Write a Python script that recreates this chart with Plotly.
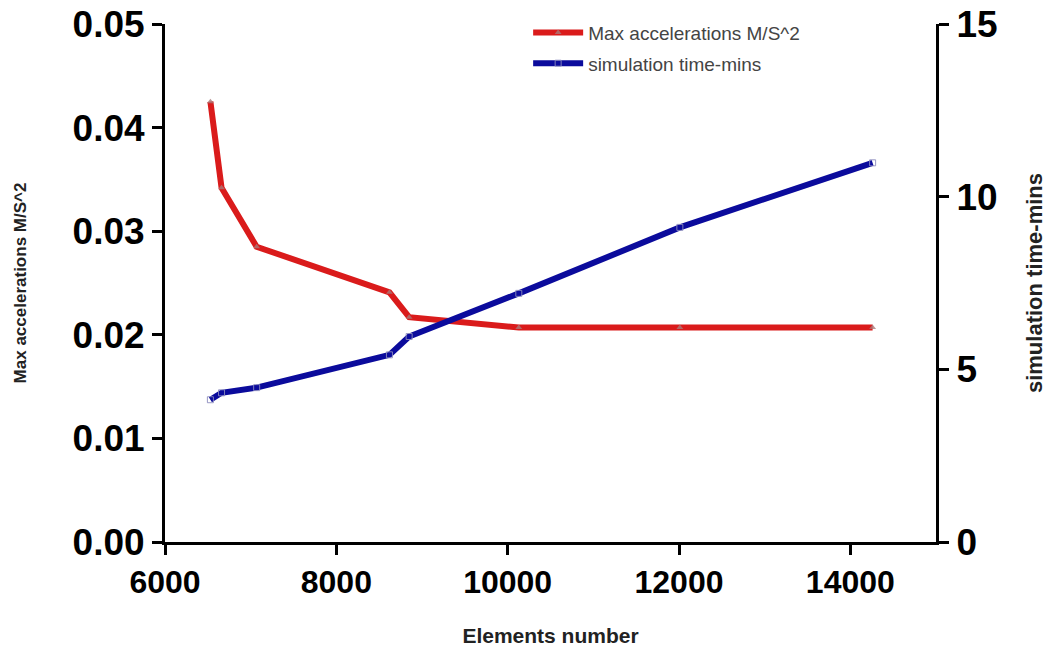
import plotly.graph_objects as go

elements = [6530, 6660, 7070, 8620, 8850, 10130, 12010, 14260]
max_acc = [0.0425, 0.0342, 0.0285, 0.0241, 0.0217, 0.0207, 0.0207, 0.0207]
sim_time = [4.12, 4.32, 4.47, 5.42, 5.95, 7.20, 9.11, 10.98]

x_ticks = [6000, 8000, 10000, 12000, 14000]
y1_ticks = [0.00, 0.01, 0.02, 0.03, 0.04, 0.05]
y2_ticks = [0, 5, 10, 15]

RED = "#DA1B1B"
BLUE = "#0B0B9C"
FONT = "Liberation Sans, Arial, sans-serif"

fig = go.Figure()
fig.add_trace(go.Scatter(
    x=elements, y=max_acc, name="Max accelerations M/S^2", mode="lines+markers",
    line=dict(color=RED, width=6),
    marker=dict(symbol="triangle-up", size=6, color="rgba(170,120,120,0.8)"),
    yaxis="y", legendgroup="a",
))
fig.add_trace(go.Scatter(
    x=elements, y=sim_time, name="simulation time-mins", mode="lines+markers",
    line=dict(color=BLUE, width=6),
    marker=dict(symbol="square-open", size=6, color="rgba(140,140,190,0.9)"),
    yaxis="y2", legendgroup="b",
))

axis_common = dict(
    showline=True, linecolor="black", linewidth=3,
    ticks="outside", ticklen=10, tickwidth=3, tickcolor="black",
    showgrid=False, zeroline=False, automargin=False,
)

fig.update_layout(
    width=1050, height=650,
    margin=dict(l=165, r=114, t=24, b=108),
    paper_bgcolor="white", plot_bgcolor="white",
    font=dict(family=FONT, color="black"),
    xaxis=dict(
        range=[6000, 15000], tickvals=x_ticks,
        ticktext=[str(v) for v in x_ticks],
        tickfont=dict(size=32, family=FONT, weight="bold"),
        title=dict(text="<b>Elements number</b>", font=dict(size=21, color="#222"), standoff=29),
        **axis_common,
    ),
    yaxis=dict(
        range=[0, 0.05], tickvals=y1_ticks,
        ticktext=[f"{v:.2f}" for v in y1_ticks],
        tickfont=dict(size=37, family=FONT, weight="bold"),
        title=dict(text="<b>Max accelerations M/S^2</b>", font=dict(size=17, color="#222"), standoff=42),
        **axis_common,
    ),
    yaxis2=dict(
        range=[0, 15], tickvals=y2_ticks, ticktext=[str(v) for v in y2_ticks],
        overlaying="y", side="right",
        tickfont=dict(size=37, family=FONT, weight="bold"),
        title=dict(text="<b>simulation time-mins</b>", font=dict(size=22, color="#222"), standoff=31),
        **axis_common,
    ),
    legend=dict(
        x=0.471, y=1.02, xanchor="left", yanchor="top",
        font=dict(size=19, color="#444", family=FONT),
        bgcolor="rgba(0,0,0,0)", itemwidth=50, tracegroupgap=3,
        traceorder="grouped",
    ),
)

fig.write_html("out.html")
